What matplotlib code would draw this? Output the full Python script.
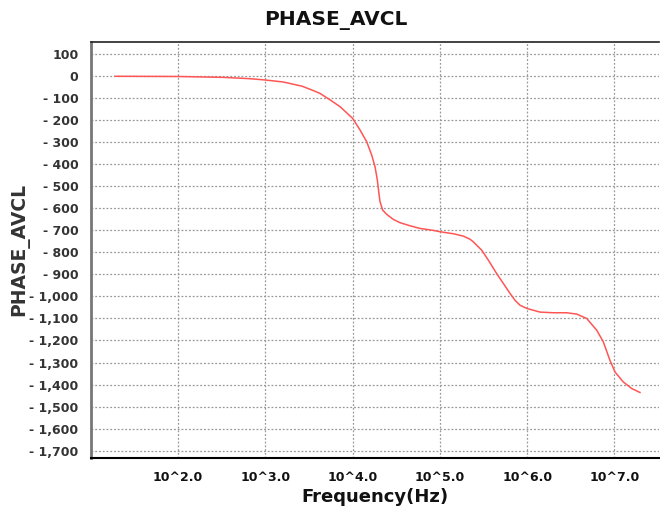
import matplotlib
matplotlib.use("Agg")
import matplotlib.pyplot as plt
from matplotlib.ticker import FuncFormatter, FixedLocator

# Data (log10 of frequency in Hz, phase in degrees)
log_freq = [1.278, 2.00, 2.52, 2.825, 3.00, 3.206, 3.42, 3.55, 3.627, 3.741,
            3.856, 4.00, 4.085, 4.161, 4.219, 4.257, 4.283, 4.299, 4.314, 4.345,
            4.39, 4.466, 4.543, 4.658, 4.772, 4.925, 5.00, 5.116, 5.153, 5.268,
            5.345, 5.383, 5.479, 5.555, 5.65, 5.727, 5.803, 5.86, 5.918, 6.001,
            6.147, 6.299, 6.452, 6.567, 6.682, 6.796, 6.872, 6.948, 7.006, 7.10,
            7.197, 7.292]
phase = [0, -1, -5, -11, -17, -26, -45, -65, -78, -107,
         -138, -191, -244, -297, -358, -411, -471, -524, -570, -608,
         -627, -650, -665, -679, -691, -700, -706, -713, -715, -726,
         -740, -752, -790, -835, -896, -941, -986, -1017, -1040, -1055,
         -1071, -1074, -1074, -1080, -1100, -1153, -1206, -1290, -1343, -1388,
         -1418, -1436]
freq = [10 ** v for v in log_freq]

x_tick_vals = [1e2, 1e3, 1e4, 1e5, 1e6, 1e7]
x_tick_labels = ["10^2.0", "10^3.0", "10^4.0", "10^5.0", "10^6.0", "10^7.0"]
y_tick_vals = list(range(100, -1701, -100))

plt.rcParams['font.family'] = ['DejaVu Sans']

W, H = 660, 508
fig = plt.figure(figsize=(W / 100, H / 100), dpi=100)
ax = fig.add_axes([91 / W, 1 - 458.3 / H, (659 - 91) / W, (458.3 - 41.7) / H])

ax.plot(freq, phase, color='#ff5555', linewidth=1.1, solid_joinstyle='round')
ax.set_xscale('log')
ax.set_xlim(10 ** 1.003, 10 ** 7.51)
ax.set_ylim(-1735, 157)

ax.xaxis.set_major_locator(FixedLocator(x_tick_vals))
ax.xaxis.set_minor_locator(FixedLocator([]))
ax.set_xticklabels(x_tick_labels)
ax.yaxis.set_major_locator(FixedLocator(y_tick_vals))


def yfmt(v, pos):
    v = int(round(v))
    if v < 0:
        return "- " + format(-v, ",")
    return format(v, ",")


ax.yaxis.set_major_formatter(FuncFormatter(yfmt))

ax.tick_params(axis='both', length=0, labelsize=9)
ax.tick_params(axis='y', pad=9, labelcolor='#333333')
ax.tick_params(axis='x', pad=9, labelcolor='#111111')
for lab in ax.get_xticklabels() + ax.get_yticklabels():
    lab.set_fontweight('bold')

ax.grid(True, which='major', color='#999999', linestyle=(0, (1.5, 1.5)), linewidth=0.9)

ax.spines['left'].set_color('#777777')
ax.spines['left'].set_linewidth(2)
ax.spines['bottom'].set_color('#000000')
ax.spines['bottom'].set_linewidth(1.5)
ax.spines['top'].set_color('#222222')
ax.spines['top'].set_linewidth(1.2)
ax.spines['right'].set_visible(False)

fig.text(336 / W, 1 - 20 / H, "PHASE_AVCL", ha='center', va='center',
         fontsize=14.5, fontweight='bold', color='#111111')
ax.set_xlabel("Frequency(Hz)", fontsize=13, fontweight='bold', color='#111111', labelpad=3)
ax.set_ylabel("PHASE_AVCL", fontsize=13.5, fontweight='bold', color='#333333')
ax.yaxis.set_label_coords((20 - 91) / (659 - 91), (458.3 - 249) / (458.3 - 41.7))
ax.yaxis.label.set_va('center')

fig.savefig("out.png", dpi=100)
